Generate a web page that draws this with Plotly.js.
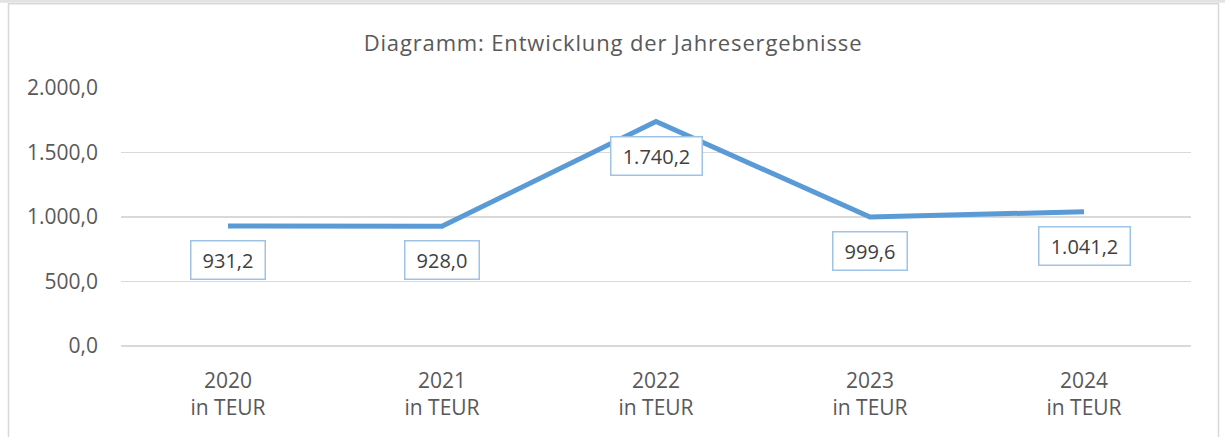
<!DOCTYPE html>
<html>
<head>
<meta charset="utf-8">
<script src="https://cdn.plot.ly/plotly-3.0.1.min.js"></script>
<style>
html,body{margin:0;padding:0;background:#fff;}
#chart{width:1225px;height:437px;}
.gtitle{letter-spacing:0.85px;}
</style>
</head>
<body>
<div id="chart"></div>
<script>
const years = ["2020", "2021", "2022", "2023", "2024"];
const unitLabel = "in TEUR";
const values = [931.2, 928.0, 1740.2, 999.6, 1041.2];
const labelTexts = ["931,2", "928,0", "1.740,2", "999,6", "1.041,2"];
const yTickVals = [0, 500, 1000, 1500, 2000];
const yTickText = ["0,0", "500,0", "1.000,0", "1.500,0", "2.000,0"];
const titleText = "Diagramm: Entwicklung der Jahresergebnisse";

const FONT = "Open Sans, Noto Sans, sans-serif";
const W = 1225, H = 437;
const L = 121, R = 34, T = 87.5, B = 90.5;
const pw = W - L - R, ph = H - T - B;
const px = v => (v - L) / pw;
const py = v => (H - B - v) / ph;

const cv = document.createElement("canvas").getContext("2d");
cv.font = "20px 'Open Sans'";

const xIdx = years.map((_, i) => i);

const trace = {
  x: xIdx,
  y: values,
  type: "scatter",
  mode: "lines",
  line: {color: "#5B9BD5", width: 5, shape: "linear"},
  hoverinfo: "skip"
};

const annotations = values.map((v, i) => ({
  x: i, y: v, xref: "x", yref: "y",
  text: labelTexts[i],
  showarrow: false,
  yshift: -34,
  font: {family: FONT, size: 20, color: "#404040"},
  bgcolor: "#ffffff",
  bordercolor: "#9DC3E6",
  borderwidth: 1.5,
  borderpad: 5,
  width: Math.round(cv.measureText(labelTexts[i]).width) + 12,
  align: "center"
}));

const layout = {
  width: W, height: H,
  margin: {l: L, r: R, t: T, b: B, pad: 0},
  paper_bgcolor: "#ffffff",
  plot_bgcolor: "#ffffff",
  showlegend: false,
  font: {family: FONT, color: "#595959", size: 21},
  title: {
    text: titleText,
    x: 613 / W, xref: "container", xanchor: "center",
    y: 1 - 43 / H, yref: "container", yanchor: "middle",
    font: {family: FONT, size: 22, color: "#595959"}
  },
  xaxis: {
    range: [-0.5, 4.5],
    tickvals: xIdx,
    ticktext: years.map(y => y + "<br>" + unitLabel),
    showgrid: false, zeroline: false, showline: false,
    ticks: "", ticklen: 0, ticklabelstandoff: 20,
    tickfont: {family: FONT, size: 21, color: "#595959"},
    fixedrange: true
  },
  yaxis: {
    range: [0, 2000],
    tickvals: yTickVals,
    ticktext: yTickText,
    showgrid: true, gridcolor: "#D9D9D9", gridwidth: 1.3,
    zeroline: true, zerolinecolor: "#D9D9D9", zerolinewidth: 1.3,
    showline: false,
    ticks: "", ticklabelstandoff: 22,
    tickfont: {family: FONT, size: 21, color: "#595959"},
    fixedrange: true
  },
  shapes: [
    {type: "rect", xref: "paper", yref: "paper",
     x0: px(8.5), x1: px(1218.5), y0: py(460), y1: py(3),
     line: {color: "#D9D9D9", width: 1.5}, fillcolor: "rgba(0,0,0,0)", layer: "below"},
    {type: "rect", xref: "paper", yref: "paper",
     x0: px(0), x1: px(1225), y0: py(2), y1: py(-1),
     line: {width: 0}, fillcolor: "#E3E3E3", layer: "below"}
  ],
  annotations: annotations
};

Plotly.newPlot("chart", [trace], layout, {displayModeBar: false, staticPlot: true});
</script>
</body>
</html>
